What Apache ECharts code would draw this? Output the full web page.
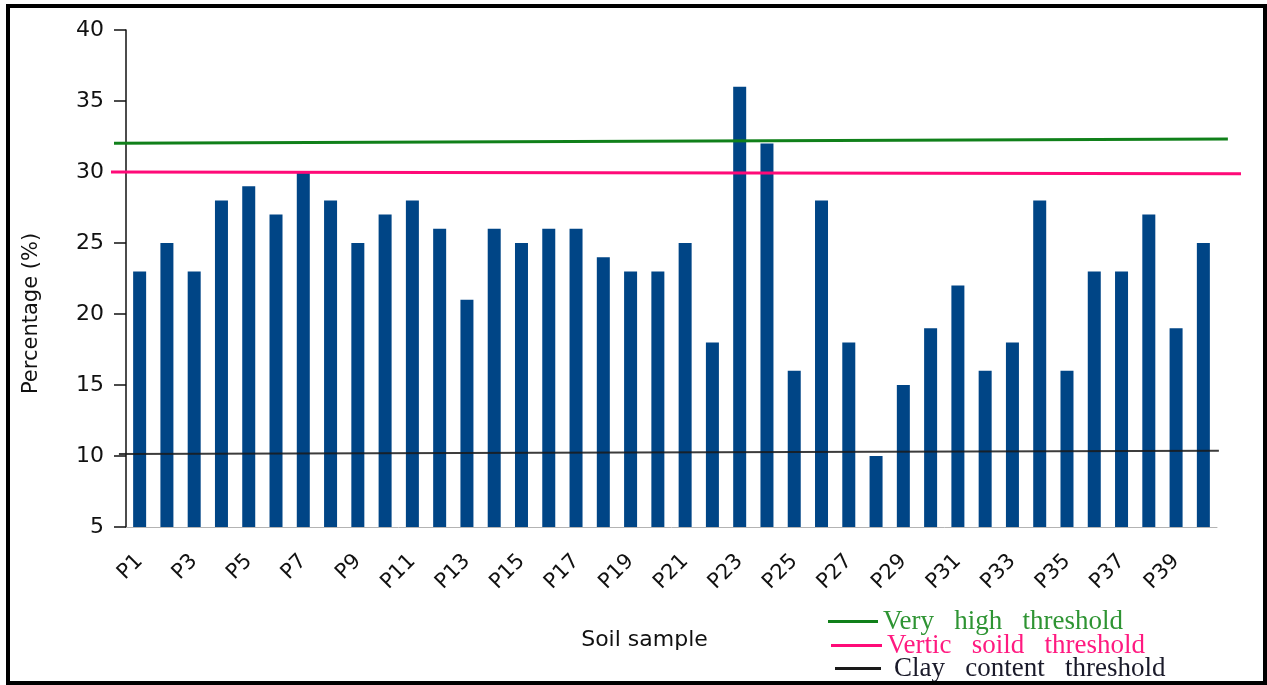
<!DOCTYPE html>
<html>
<head>
<meta charset="utf-8">
<script src="https://cdn.jsdelivr.net/npm/echarts@6/dist/echarts.min.js"></script>
<style>
html, body { margin: 0; padding: 0; background: #fff; }
#main { position: absolute; left: 0; top: 0; width: 1267px; height: 685px; }
.frame { position: absolute; left: 6px; top: 4px; width: 1261px; height: 681px; border: 4px solid #000; box-sizing: border-box; pointer-events: none; }
</style>
</head>
<body>
<div id="main"></div>
<div class="frame"></div>
<script>
// soil samples P1..P40
const samples = ['P1','P2','P3','P4','P5','P6','P7','P8','P9','P10',
  'P11','P12','P13','P14','P15','P16','P17','P18','P19','P20',
  'P21','P22','P23','P24','P25','P26','P27','P28','P29','P30',
  'P31','P32','P33','P34','P35','P36','P37','P38','P39','P40'];
// clay percentage per sample
const clayPct = [23,25,23,28,29,27,30,28,25,27,
  28,26,21,26,25,26,26,24,23,23,
  25,18,36,32,16,28,18,10,15,19,
  22,16,18,28,16,23,23,27,19,25];
const yTicks = [5, 40, 5]; // min, max, step

// threshold lines, drawn by hand in the original so they are slightly tilted
// x in category units (0 = left edge of P1, 40 = right edge of P40)
const veryHighLine = [[-0.44, 32.02], [40.4, 32.32]];
const verticLine = [[-0.55, 30.0], [40.88, 29.88]];
const clayLine = [[-0.26, 10.14], [40.07, 10.37]];
const lineRange = [-0.55, 40.88];

const names = ['Very high threshold', 'Vertic soild threshold', 'Clay content threshold'];
const lineColors = ['#10801a', '#ff0a78', '#1a1a1a'];
const textColors = ['#2e9433', '#ff1a80', '#1a1a2a'];

var myChart = echarts.init(document.getElementById('main'));

function legendAt(i, left, top, w, padLeft) {
  return {
    left: left, top: top, orient: 'horizontal',
    selectedMode: false,
    icon: 'rect', itemWidth: w, itemHeight: 3, itemGap: 0,
    data: [{ name: names[i], itemStyle: { color: lineColors[i] } }],
    formatter: function (n) { return n.replace(/ /g, '   '); },
    textStyle: {
      fontFamily: 'Liberation Serif', fontSize: 27, lineHeight: 24,
      color: textColors[i], padding: [0, 0, 0, padLeft]
    }
  };
}

var option = {
  animation: false,
  grid: [
    { left: 126, right: 50, top: 30, bottom: 158 },
    // wider grid for the hand drawn threshold lines (same y scale)
    { left: 111, right: 26, top: 30, bottom: 158 }
  ],
  legend: [
    legendAt(0, 823, 603, 50, 0),
    legendAt(1, 826, 627, 51, 0),
    legendAt(2, 830, 650, 46, 8)
  ],
  xAxis: [
    {
      type: 'category', gridIndex: 0, data: samples,
      name: 'Soil sample', nameLocation: 'middle', nameGap: 102,
      nameTextStyle: { fontFamily: 'DejaVu Sans', fontSize: 22, color: '#111', padding: [0, 54, 0, 0] },
      axisLine: { lineStyle: { color: '#b3b3b3', width: 1 } },
      axisTick: { length: 12, lineStyle: { color: '#b3b3b3' } },
      axisLabel: { interval: 1, rotate: 45, margin: 31, fontFamily: 'DejaVu Sans', fontSize: 21, color: '#111' }
    },
    { type: 'value', gridIndex: 1, min: lineRange[0], max: lineRange[1], show: false }
  ],
  yAxis: [
    {
      type: 'value', gridIndex: 0, min: yTicks[0], max: yTicks[1], interval: yTicks[2],
      name: 'Percentage (%)', nameLocation: 'middle', nameGap: 84,
      nameTextStyle: { fontFamily: 'DejaVu Sans', fontSize: 21, color: '#111', padding: [0, 70, 0, 0] },
      axisLine: { show: true, lineStyle: { color: '#111', width: 1.5 } },
      axisTick: { show: true, length: 12, lineStyle: { color: '#111', width: 1.5 } },
      axisLabel: { margin: 22, fontFamily: 'DejaVu Sans', fontSize: 22, color: '#111' },
      splitLine: { show: false }
    },
    { type: 'value', gridIndex: 1, min: yTicks[0], max: yTicks[1], show: false }
  ],
  series: [
    {
      type: 'bar', xAxisIndex: 0, yAxisIndex: 0, data: clayPct, barWidth: 13,
      itemStyle: { color: '#004586' }
    },
    {
      name: names[0], type: 'line', xAxisIndex: 1, yAxisIndex: 1, data: veryHighLine,
      symbol: 'none', lineStyle: { color: lineColors[0], width: 3 }, z: 5
    },
    {
      name: names[1], type: 'line', xAxisIndex: 1, yAxisIndex: 1, data: verticLine,
      symbol: 'none', lineStyle: { color: lineColors[1], width: 3 }, z: 5
    },
    {
      name: names[2], type: 'line', xAxisIndex: 1, yAxisIndex: 1, data: clayLine,
      symbol: 'none', lineStyle: { color: lineColors[2], width: 2, opacity: 0.85 }, z: 5
    }
  ]
};
myChart.setOption(option);
</script>
</body>
</html>
